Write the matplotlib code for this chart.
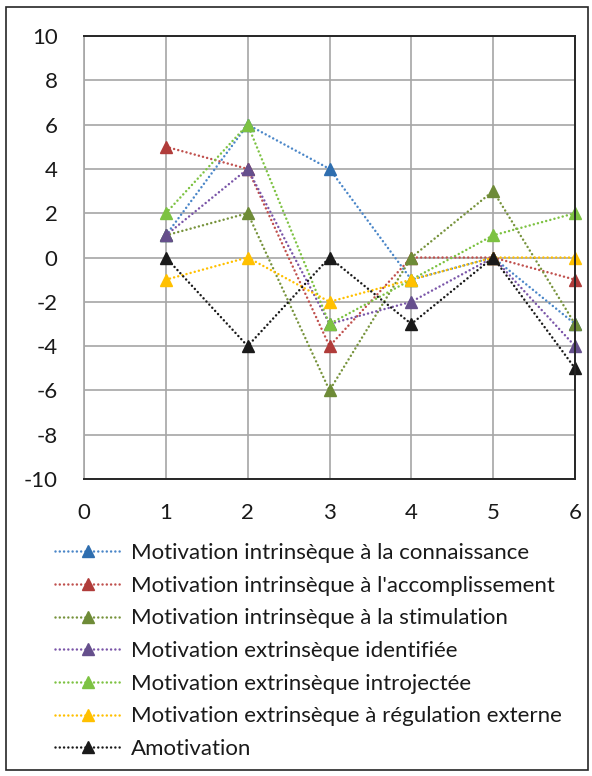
import matplotlib
matplotlib.use("Agg")
import matplotlib.pyplot as plt
from matplotlib.patches import Rectangle

plt.rcParams['font.family'] = ['Lato', 'DejaVu Sans']
plt.rcParams['axes.unicode_minus'] = False

x_values = [1, 2, 3, 4, 5, 6]
series_names = [
    "Motivation intrinsèque à la connaissance",
    "Motivation intrinsèque à l'accomplissement",
    "Motivation intrinsèque à la stimulation",
    "Motivation extrinsèque identifiée",
    "Motivation extrinsèque introjectée",
    "Motivation extrinsèque à régulation externe",
    "Amotivation",
]
connaissance = [1, 6, 4, -1, 0, -3]
accomplissement = [5, 4, -4, 0, 0, -1]
stimulation = [1, 2, -6, 0, 3, -3]
identifiee = [1, 4, -3, -2, 0, -4]
introjectee = [2, 6, -3, -1, 1, 2]
externe = [-1, 0, -2, -1, 0, 0]
amotivation = [0, -4, 0, -3, 0, -5]
series_values = [connaissance, accomplissement, stimulation, identifiee,
                 introjectee, externe, amotivation]

y_ticks = [-10, -8, -6, -4, -2, 0, 2, 4, 6, 8, 10]
x_ticks = [0, 1, 2, 3, 4, 5, 6]

line_colors = ["#4A86C8", "#C0504D", "#77933C", "#7A55A8", "#7DC242", "#FFC000", "#1A1A1A"]
marker_colors = ["#2F6EAF", "#B03C3A", "#6E8B37", "#654F8C", "#7DC242", "#FFC000", "#1A1A1A"]

W, H = 592, 776
fig = plt.figure(figsize=(W / 100, H / 100), dpi=100)

# outer frame
fig.patches.append(Rectangle((6 / W, 1 - 770 / H), (588 - 6) / W, (770 - 7) / H,
                             transform=fig.transFigure, fill=False,
                             edgecolor="#262626", linewidth=1.2))

ax_l, ax_r, ax_t, ax_b = 84, 575, 36, 479
ax = fig.add_axes([ax_l / W, 1 - ax_b / H, (ax_r - ax_l) / W, (ax_b - ax_t) / H])

for name, vals, lc, mc in zip(series_names, series_values, line_colors, marker_colors):
    ax.plot(x_values, vals, linestyle=(0, (0.01, 1.7)), linewidth=1.8, color=lc,
            dash_capstyle='round', marker='^', markersize=9,
            markerfacecolor=mc, markeredgecolor=mc, label=name, clip_on=False)

ax.set_xlim(0, 6)
ax.set_ylim(-10, 10)
ax.set_xticks(x_ticks)
ax.set_yticks(y_ticks)
ax.grid(True, color="#A6A6A6", linewidth=1.2)
ax.set_axisbelow(True)
ax.tick_params(length=0, labelsize=16, colors="#1A1A1A")
ax.tick_params(axis='y', pad=19)
ax.tick_params(axis='x', pad=17)
for s in ['top', 'bottom', 'right']:
    ax.spines[s].set_color("#262626")
    ax.spines[s].set_linewidth(1.4)
ax.spines['left'].set_color("#A6A6A6")
ax.spines['left'].set_linewidth(1.2)

fig.legend(loc='upper left', bbox_to_anchor=(55 / W, 1 - 543 / H),
           frameon=False, fontsize=16, handlelength=3.0, handletextpad=0.42,
           labelspacing=0.57, borderpad=0, borderaxespad=0, labelcolor="#1A1A1A")

fig.savefig("out.png", dpi=100)
